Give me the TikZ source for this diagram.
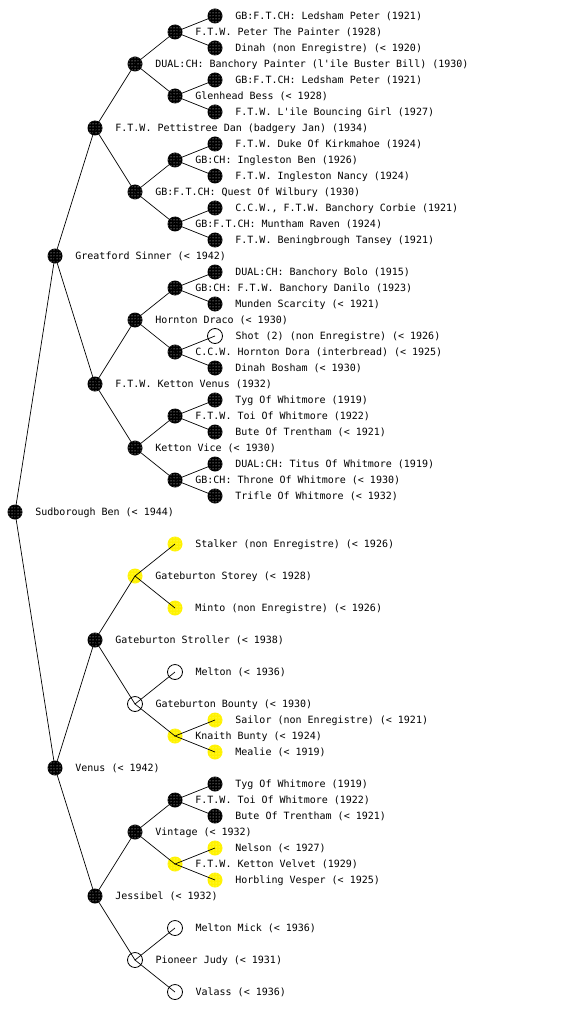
\documentclass[tikz,border=0pt]{standalone}
\usepackage{fontspec}
\newfontfamily\pedfont{DejaVu Sans Mono}
\usetikzlibrary{patterns}

\begin{document}
\begin{tikzpicture}[
    x=1pt, y=-1pt,
    pd/.style={circle, minimum size=15pt, inner sep=0pt},
    blk/.style={pd, preaction={fill=black}, pattern=dots, pattern color=white},
    ylw/.style={pd, preaction={fill=yellow}, pattern=dots, pattern color=yellow!35},
    unk/.style={pd, draw=black, line width=0.8pt, fill=white},
    lbl/.style={font=\pedfont\fontsize{10pt}{12pt}\selectfont, inner sep=0pt, xshift=12.5pt, text height=8pt, text depth=1pt},
    lnk/.style={black, line width=0.7pt},
]
\useasboundingbox (0,0) rectangle (560,1024);

% ── Subject ──
\node[blk, label={[lbl]right:{Sudborough Ben (< 1944)}}] (r) at (15,512) {};

% ── Parents ──
\node[blk, label={[lbl]right:{Greatford Sinner (< 1942)}}] (r1) at (55,256) {};
\node[blk, label={[lbl]right:{Venus (< 1942)}}] (r2) at (55,768) {};

% ── Grandparents ──
\node[blk, label={[lbl]right:{F.T.W. Pettistree Dan (badgery Jan) (1934)}}] (r11) at (95,128) {};
\node[blk, label={[lbl]right:{F.T.W. Ketton Venus (1932)}}] (r12) at (95,384) {};
\node[blk, label={[lbl]right:{Gateburton Stroller (< 1938)}}] (r21) at (95,640) {};
\node[blk, label={[lbl]right:{Jessibel (< 1932)}}] (r22) at (95,896) {};

% ── Great-grandparents ──
\node[blk, label={[lbl]right:{DUAL:CH: Banchory Painter (l'ile Buster Bill) (1930)}}] (r111) at (135,64) {};
\node[blk, label={[lbl]right:{GB:F.T.CH: Quest Of Wilbury (1930)}}] (r112) at (135,192) {};
\node[blk, label={[lbl]right:{Hornton Draco (< 1930)}}] (r121) at (135,320) {};
\node[blk, label={[lbl]right:{Ketton Vice (< 1930)}}] (r122) at (135,448) {};
\node[ylw, label={[lbl]right:{Gateburton Storey (< 1928)}}] (r211) at (135,576) {};
\node[unk, label={[lbl]right:{Gateburton Bounty (< 1930)}}] (r212) at (135,704) {};
\node[blk, label={[lbl]right:{Vintage (< 1932)}}] (r221) at (135,832) {};
\node[unk, label={[lbl]right:{Pioneer Judy (< 1931)}}] (r222) at (135,960) {};

% ── Generation 4 ──
\node[blk, label={[lbl]right:{F.T.W. Peter The Painter (1928)}}] (r1111) at (175,32) {};
\node[blk, label={[lbl]right:{Glenhead Bess (< 1928)}}] (r1112) at (175,96) {};
\node[blk, label={[lbl]right:{GB:CH: Ingleston Ben (1926)}}] (r1121) at (175,160) {};
\node[blk, label={[lbl]right:{GB:F.T.CH: Muntham Raven (1924)}}] (r1122) at (175,224) {};
\node[blk, label={[lbl]right:{GB:CH: F.T.W. Banchory Danilo (1923)}}] (r1211) at (175,288) {};
\node[blk, label={[lbl]right:{C.C.W. Hornton Dora (interbread) (< 1925)}}] (r1212) at (175,352) {};
\node[blk, label={[lbl]right:{F.T.W. Toi Of Whitmore (1922)}}] (r1221) at (175,416) {};
\node[blk, label={[lbl]right:{GB:CH: Throne Of Whitmore (< 1930)}}] (r1222) at (175,480) {};
\node[ylw, label={[lbl]right:{Stalker (non Enregistre) (< 1926)}}] (r2111) at (175,544) {};
\node[ylw, label={[lbl]right:{Minto (non Enregistre) (< 1926)}}] (r2112) at (175,608) {};
\node[unk, label={[lbl]right:{Melton (< 1936)}}] (r2121) at (175,672) {};
\node[ylw, label={[lbl]right:{Knaith Bunty (< 1924)}}] (r2122) at (175,736) {};
\node[blk, label={[lbl]right:{F.T.W. Toi Of Whitmore (1922)}}] (r2211) at (175,800) {};
\node[ylw, label={[lbl]right:{F.T.W. Ketton Velvet (1929)}}] (r2212) at (175,864) {};
\node[unk, label={[lbl]right:{Melton Mick (< 1936)}}] (r2221) at (175,928) {};
\node[unk, label={[lbl]right:{Valass (< 1936)}}] (r2222) at (175,992) {};

% ── Generation 5 ──
\node[blk, label={[lbl]right:{GB:F.T.CH: Ledsham Peter (1921)}}] (r11111) at (215,16) {};
\node[blk, label={[lbl]right:{Dinah (non Enregistre) (< 1920)}}] (r11112) at (215,48) {};
\node[blk, label={[lbl]right:{GB:F.T.CH: Ledsham Peter (1921)}}] (r11121) at (215,80) {};
\node[blk, label={[lbl]right:{F.T.W. L'ile Bouncing Girl (1927)}}] (r11122) at (215,112) {};
\node[blk, label={[lbl]right:{F.T.W. Duke Of Kirkmahoe (1924)}}] (r11211) at (215,144) {};
\node[blk, label={[lbl]right:{F.T.W. Ingleston Nancy (1924)}}] (r11212) at (215,176) {};
\node[blk, label={[lbl]right:{C.C.W., F.T.W. Banchory Corbie (1921)}}] (r11221) at (215,208) {};
\node[blk, label={[lbl]right:{F.T.W. Beningbrough Tansey (1921)}}] (r11222) at (215,240) {};
\node[blk, label={[lbl]right:{DUAL:CH: Banchory Bolo (1915)}}] (r12111) at (215,272) {};
\node[blk, label={[lbl]right:{Munden Scarcity (< 1921)}}] (r12112) at (215,304) {};
\node[unk, label={[lbl]right:{Shot (2) (non Enregistre) (< 1926)}}] (r12121) at (215,336) {};
\node[blk, label={[lbl]right:{Dinah Bosham (< 1930)}}] (r12122) at (215,368) {};
\node[blk, label={[lbl]right:{Tyg Of Whitmore (1919)}}] (r12211) at (215,400) {};
\node[blk, label={[lbl]right:{Bute Of Trentham (< 1921)}}] (r12212) at (215,432) {};
\node[blk, label={[lbl]right:{DUAL:CH: Titus Of Whitmore (1919)}}] (r12221) at (215,464) {};
\node[blk, label={[lbl]right:{Trifle Of Whitmore (< 1932)}}] (r12222) at (215,496) {};
\node[ylw, label={[lbl]right:{Sailor (non Enregistre) (< 1921)}}] (r21221) at (215,720) {};
\node[ylw, label={[lbl]right:{Mealie (< 1919)}}] (r21222) at (215,752) {};
\node[blk, label={[lbl]right:{Tyg Of Whitmore (1919)}}] (r22111) at (215,784) {};
\node[blk, label={[lbl]right:{Bute Of Trentham (< 1921)}}] (r22112) at (215,816) {};
\node[ylw, label={[lbl]right:{Nelson (< 1927)}}] (r22121) at (215,848) {};
\node[ylw, label={[lbl]right:{Horbling Vesper (< 1925)}}] (r22122) at (215,880) {};

% ── Links (sire -- child -- dam) ──
\draw[lnk] (r1.center) -- (r.center) -- (r2.center);
\draw[lnk] (r11.center) -- (r1.center) -- (r12.center);
\draw[lnk] (r21.center) -- (r2.center) -- (r22.center);
\draw[lnk] (r111.center) -- (r11.center) -- (r112.center);
\draw[lnk] (r121.center) -- (r12.center) -- (r122.center);
\draw[lnk] (r211.center) -- (r21.center) -- (r212.center);
\draw[lnk] (r221.center) -- (r22.center) -- (r222.center);
\draw[lnk] (r1111.center) -- (r111.center) -- (r1112.center);
\draw[lnk] (r1121.center) -- (r112.center) -- (r1122.center);
\draw[lnk] (r1211.center) -- (r121.center) -- (r1212.center);
\draw[lnk] (r1221.center) -- (r122.center) -- (r1222.center);
\draw[lnk] (r2111.center) -- (r211.center) -- (r2112.center);
\draw[lnk] (r2121.center) -- (r212.center) -- (r2122.center);
\draw[lnk] (r2211.center) -- (r221.center) -- (r2212.center);
\draw[lnk] (r2221.center) -- (r222.center) -- (r2222.center);
\draw[lnk] (r11111.center) -- (r1111.center) -- (r11112.center);
\draw[lnk] (r11121.center) -- (r1112.center) -- (r11122.center);
\draw[lnk] (r11211.center) -- (r1121.center) -- (r11212.center);
\draw[lnk] (r11221.center) -- (r1122.center) -- (r11222.center);
\draw[lnk] (r12111.center) -- (r1211.center) -- (r12112.center);
\draw[lnk] (r12121.center) -- (r1212.center) -- (r12122.center);
\draw[lnk] (r12211.center) -- (r1221.center) -- (r12212.center);
\draw[lnk] (r12221.center) -- (r1222.center) -- (r12222.center);
\draw[lnk] (r21221.center) -- (r2122.center) -- (r21222.center);
\draw[lnk] (r22111.center) -- (r2211.center) -- (r22112.center);
\draw[lnk] (r22121.center) -- (r2212.center) -- (r22122.center);

\end{tikzpicture}
\end{document}
